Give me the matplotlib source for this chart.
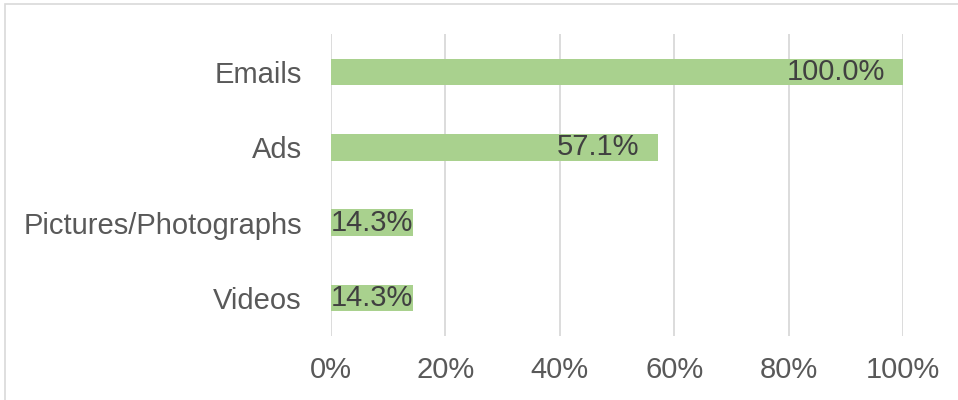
import matplotlib
matplotlib.use("Agg")
import matplotlib.pyplot as plt
from matplotlib.patches import Rectangle
from matplotlib.ticker import FuncFormatter

categories = ["Emails", "Ads", "Pictures/Photographs", "Videos"]
values = [100.0, 57.1, 14.3, 14.3]
xticks = [0, 20, 40, 60, 80, 100]

plt.rcParams['font.family'] = ["Liberation Sans", "DejaVu Sans"]

W, H = 958, 400
fig = plt.figure(figsize=(W/100, H/100), dpi=100)
ax = fig.add_axes([331/W, 1-335.6/H, (903-331)/W, (335.6-34.4)/H])

fs = 21
bar_color = "#A9D18E"
ypos = list(range(len(categories)))
ax.barh(ypos, values, height=0.35, color=bar_color, zorder=2)
ax.set_yticks(ypos)
ax.set_yticklabels(categories)
ax.set_ylim(len(categories)-0.5, -0.5)
ax.set_xlim(0, 100)
ax.set_xticks(xticks)
ax.xaxis.set_major_formatter(FuncFormatter(lambda v, p: f"{v:.0f}%"))
for s in ax.spines.values():
    s.set_visible(False)
ax.grid(axis='x', color="#D9D9D9", lw=1.3, zorder=0)
ax.tick_params(axis='both', length=0, labelsize=fs, colors="#595959")
ax.tick_params(axis='y', pad=21)
ax.tick_params(axis='x', pad=15)

fig.canvas.draw()
renderer = fig.canvas.get_renderer()
px_per_unit = ax.transData.transform((1, 0))[0] - ax.transData.transform((0, 0))[0]
pad_px = 18
for y, v in zip(ypos, values):
    t = ax.text(0, y, f"{v:.1f}%", fontsize=fs, color="#404040", va='center', ha='right', zorder=3)
    wpx = t.get_window_extent(renderer).width
    barpx = v * px_per_unit
    if barpx - pad_px >= wpx:
        t.set_position((v - pad_px/px_per_unit, y))
    else:
        t.set_ha('left')
        t.set_position((0, y))

fig.patches.append(Rectangle((4.5/W, -0.1), 1.2, (395.5/H)+0.1, transform=fig.transFigure,
                             fill=False, edgecolor="#D9D9D9", lw=1.2))
fig.savefig("out.png", dpi=100)
